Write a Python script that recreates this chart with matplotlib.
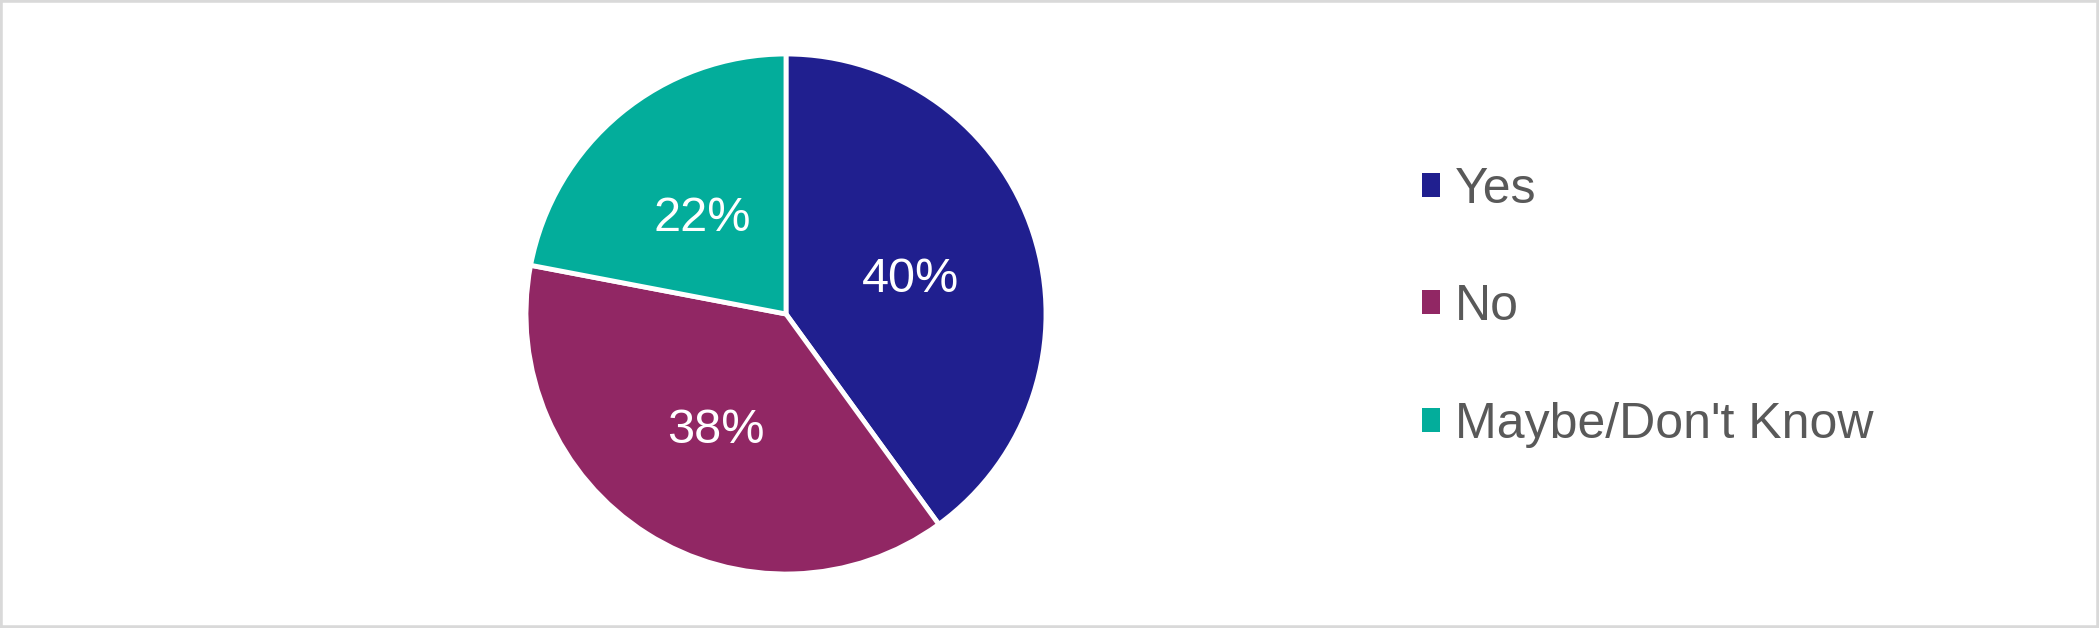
import matplotlib
matplotlib.use("Agg")
import matplotlib.pyplot as plt
import matplotlib.transforms as mtransforms
from matplotlib.patches import Patch, Rectangle

labels = ["Yes", "No", "Maybe/Don't Know"]
values = [40, 38, 22]
colors = ["#201F8F", "#912764", "#03AD9B"]

plt.rcParams['font.family'] = ['Liberation Sans', 'DejaVu Sans']

W, H = 2099, 628
fig = plt.figure(figsize=(W / 100, H / 100), dpi=100)

# pie: centre ~ (786, 314) px, radius ~260 px
cx, cy, r = 786, 314, 260
ax = fig.add_axes([(cx - r) / W, (H - cy - r) / H, 2 * r / W, 2 * r / H])
wedges, texts = ax.pie(values, colors=colors, startangle=90, counterclock=False,
                       labels=[f"{v}%" for v in values], labeldistance=0.505,
                       wedgeprops=dict(edgecolor="white", linewidth=3.5),
                       textprops=dict(color="white", fontsize=35, ha="center", va="center"))
# nudge labels down a little so the glyphs sit centred
shift = mtransforms.ScaledTranslation(0, -6 / 100, fig.dpi_scale_trans)
for t in texts:
    t.set_transform(t.get_transform() + shift)
ax.set_xlim(-1, 1)
ax.set_ylim(-1, 1)
ax.set_aspect("equal")
ax.axis("off")

handles = [Patch(facecolor=c, edgecolor="none") for c in colors]
leg = fig.legend(handles, labels, loc="center left", bbox_to_anchor=(1422 / W, 1 - 307 / H),
                 frameon=False, fontsize=36, labelcolor="#595959",
                 handlelength=0.36, handleheight=0.36, handletextpad=0.3,
                 labelspacing=1.43, borderpad=0, borderaxespad=0)

# outer grey border
fig.patches.append(Rectangle((0, 0), 1, 1, transform=fig.transFigure, fill=False,
                             edgecolor="#D9D9D9", linewidth=4, zorder=10))

fig.savefig("out.png", dpi=100)
